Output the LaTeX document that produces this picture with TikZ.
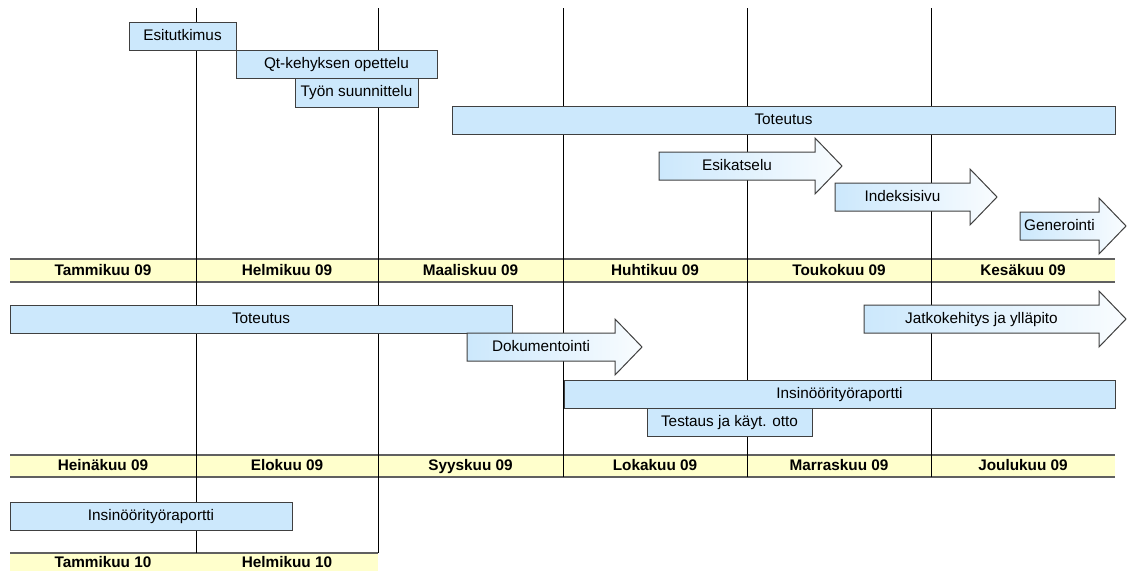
\documentclass[tikz,border=0pt]{standalone}
\usepackage{fontspec}
\setmainfont{Liberation Sans}
\definecolor{taskblue}{RGB}{204,232,252}
\definecolor{monthyellow}{RGB}{255,255,204}
\definecolor{edgegray}{RGB}{64,64,64}
\definecolor{bargray}{RGB}{96,96,96}
\begin{document}
\begin{tikzpicture}[x=0.75pt,y=0.75pt,yscale=-1,xscale=1,
  font=\fontsize{11.5}{13}\selectfont,
  task/.style={draw=edgegray, fill=taskblue, line width=0.75pt, inner sep=0.75pt, text height=8.3pt, text depth=2.2pt},
  phase/.style={draw=edgegray, left color=taskblue, middle color=taskblue!92!white, right color=taskblue!12!white, line width=0.75pt},
  month/.style={font=\fontsize{11.5}{13}\selectfont\bfseries, inner sep=0.75pt, text height=8.3pt, text depth=2.2pt},
  label/.style={inner sep=0.75pt, text height=8.3pt, text depth=2.2pt},
  bar/.style={fill=monthyellow},
  barline/.style={draw=bargray, line width=1.5pt},
  grid/.style={draw=black, line width=0.75pt}]
\useasboundingbox (0,0) rectangle (1127,571);

%Shape: Month bars
\fill[bar] (10,259) rectangle (1115,282);
\fill[bar] (10,455) rectangle (1115,477);
\fill[bar] (10,553) rectangle (378,571);
\draw[barline] (10,259) -- (1115,259);
\draw[barline] (10,282) -- (1115,282);
\draw[barline] (10,455) -- (1115,455);
\draw[barline] (10,477) -- (1115,477);
\draw[barline] (10,553) -- (378,553);

%Straight Lines: month borders
\draw[grid] (196,8) -- (196,553);
\draw[grid] (378,8) -- (378,553);
\draw[grid] (563,8) -- (563,477);
\draw[grid] (747,8) -- (747,477);
\draw[grid] (931,8) -- (931,477);

%Shape: Tasks, first half year
\node[task, minimum width=80.25pt, minimum height=21pt] (esitutkimus) at (182.5,36) {Esitutkimus};
\node[task, minimum width=150.75pt, minimum height=21pt] (qt) at (336.5,64) {Qt-kehyksen opettelu};
\node[task, minimum width=92.25pt, minimum height=21.75pt] (suunnittelu) at (356.5,92.5) {Työn suunnittelu};
\node[task, minimum width=497.25pt, minimum height=21pt] (toteutus) at (783.5,120.5) {Toteutus};

%Shape: Arrows
\path[phase] (659,152) -- (815,152) -- (815,138) -- (842,166) -- (815,194) -- (815,180) -- (659,180) -- cycle;
\path[phase] (835,183) -- (970,183) -- (970,169) -- (997,197) -- (970,225) -- (970,211) -- (835,211) -- cycle;
\path[phase] (1020,212) -- (1099,212) -- (1099,198) -- (1126,226) -- (1099,254) -- (1099,240) -- (1020,240) -- cycle;

% Text Node
\node[label] (esikatselu) at (737,166) {Esikatselu};
% Text Node
\node[label] (indeksisivu) at (902.5,197) {Indeksisivu};
% Text Node
\node[label] (generointi) at (1059.5,226) {Generointi};

% Text Node: months 1
\node[month] (tammi09) at (103,271) {Tammikuu 09};
\node[month] (helmi09) at (287,271) {Helmikuu 09};
\node[month] (maalis09) at (470.5,271) {Maaliskuu 09};
\node[month] (huhti09) at (655,271) {Huhtikuu 09};
\node[month] (touko09) at (839,271) {Toukokuu 09};
\node[month] (kesa09) at (1023,271) {Kesäkuu 09};

%Shape: Tasks, second half year
\node[task, minimum width=376.5pt, minimum height=21pt] (toteutus2) at (261,319) {Toteutus};
\path[phase] (467,333) -- (615,333) -- (615,319) -- (642,347) -- (615,375) -- (615,361) -- (467,361) -- cycle;
\path[phase] (864,305) -- (1099,305) -- (1099,291) -- (1126,319) -- (1099,347) -- (1099,333) -- (864,333) -- cycle;
% Text Node
\node[label] (dokumentointi) at (541,347) {Dokumentointi};
% Text Node
\node[label] (jatkokehitys) at (981.5,319) {Jatkokehitys ja ylläpito};
\node[task, minimum width=413.25pt, minimum height=21pt] (raportti) at (839.5,394) {Insinöörityöraportti};
\node[task, minimum width=123.75pt, minimum height=21pt] (testaus) at (729.5,422) {Testaus ja käyt. otto};

% Text Node: months 2
\node[month] (heina09) at (103,466) {Heinäkuu 09};
\node[month] (elo09) at (287,466) {Elokuu 09};
\node[month] (syys09) at (470.5,466) {Syyskuu 09};
\node[month] (loka09) at (655,466) {Lokakuu 09};
\node[month] (marras09) at (839,466) {Marraskuu 09};
\node[month] (joulu09) at (1023,466) {Joulukuu 09};

%Shape: Tasks, 2010
\node[task, minimum width=211.5pt, minimum height=21pt] (raportti2) at (151,516) {Insinöörityöraportti};

% Text Node: months 3
\node[month] (tammi10) at (103,563) {Tammikuu 10};
\node[month] (helmi10) at (287,563) {Helmikuu 10};
\end{tikzpicture}
\end{document}
